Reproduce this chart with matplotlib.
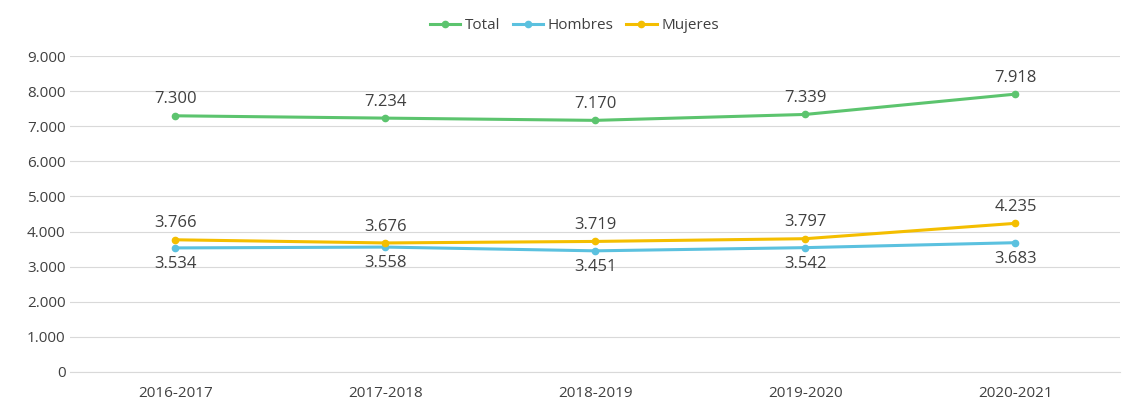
import matplotlib
matplotlib.use("Agg")
import matplotlib.pyplot as plt

categories = ["2016-2017", "2017-2018", "2018-2019", "2019-2020", "2020-2021"]
total = [7300, 7234, 7170, 7339, 7918]
hombres = [3534, 3558, 3451, 3542, 3683]
mujeres = [3766, 3676, 3719, 3797, 4235]
yticks = list(range(0, 9001, 1000))

plt.rcParams['font.family'] = ['Open Sans', 'DejaVu Sans']
fig = plt.figure(figsize=(11.34, 4.16), dpi=100)
ax = fig.add_axes([0.062, 0.106, 0.926, 0.759])

def fmt(v):
    return f"{v:,}".replace(",", ".")

x = list(range(len(categories)))
series = [("Total", total, "#5CC46E", 1), ("Hombres", hombres, "#5BC1DF", -1), ("Mujeres", mujeres, "#F4BE00", 1)]
for name, vals, col, pos in series:
    ax.plot(x, vals, color=col, lw=2.2, marker="o", ms=4.5, label=name)
    for xi, v in zip(x, vals):
        ax.annotate(fmt(v), (xi, v), xytext=(0, 6 * pos), textcoords="offset points",
                    ha="center", va="bottom" if pos > 0 else "top", fontsize=12, color="#404040")

ax.set_xlim(-0.5, 4.5)
ax.set_ylim(0, 9000)
ax.set_yticks(yticks)
ax.set_yticklabels([fmt(v) for v in yticks])
ax.set_xticks(x)
ax.set_xticklabels(categories)
ax.tick_params(length=0, labelsize=11, colors="#404040")
ax.tick_params(axis="x", pad=10)
ax.grid(axis="y", color="#D9D9D9", lw=0.8)
ax.set_axisbelow(True)
for s in ["top", "right", "left"]:
    ax.spines[s].set_visible(False)
ax.spines["bottom"].set_color("#D9D9D9")
ax.legend(loc="lower center", bbox_to_anchor=(0.48, 1.03), ncol=3, frameon=False,
          fontsize=11, handlelength=2, columnspacing=0.8, handletextpad=0.3,
          labelcolor="#404040")
fig.savefig("out.png", dpi=100)
